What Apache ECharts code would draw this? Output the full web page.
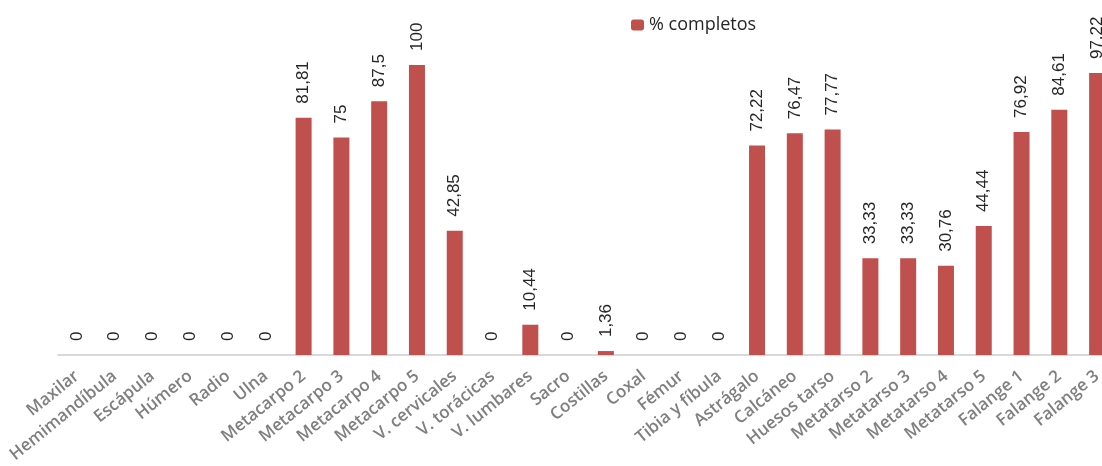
<!DOCTYPE html>
<html><head><meta charset="utf-8">
<script src="https://cdn.jsdelivr.net/npm/echarts@6/dist/echarts.min.js"></script>
<style>html,body{margin:0;padding:0;background:#fff}#c{width:1102px;height:466px}</style>
</head><body><div id="c"></div>
<script>
const categories = ["Maxilar","Hemimandíbula","Escápula","Húmero","Radio","Ulna","Metacarpo 2","Metacarpo 3","Metacarpo 4","Metacarpo 5","V. cervicales","V. torácicas","V. lumbares","Sacro","Costillas","Coxal","Fémur","Tibia y fíbula","Astrágalo","Calcáneo","Huesos tarso","Metatarso 2","Metatarso 3","Metatarso 4","Metatarso 5","Falange 1","Falange 2","Falange 3"];
const completos = [0,0,0,0,0,0,81.81,75,87.5,100,42.85,0,10.44,0,1.36,0,0,0,72.22,76.47,77.77,33.33,33.33,30.76,44.44,76.92,84.61,97.22];
const seriesName = "% completos";

const chart = echarts.init(document.getElementById('c'));
chart.setOption({
  animation:false,
  legend:{data:[seriesName], left:626, top:11, itemWidth:13, itemHeight:11, itemGap:6,
    textStyle:{fontFamily:'Open Sans', fontSize:18, color:'#262626'}},
  grid:{left:58, top:65, width:1058, height:290, containLabel:false, outerBoundsMode:'none'},
  xAxis:{type:'category', data:categories,
    axisLine:{lineStyle:{color:'#d9d9d9', width:2}},
    axisTick:{show:false},
    axisLabel:{interval:0, rotate:39, margin:19, fontFamily:'Open Sans', fontWeight:600, fontSize:17, color:'#7f7f7f'}},
  yAxis:{type:'value', min:0, max:100, show:false, splitLine:{show:false}},
  series:[{type:'bar', name:seriesName, data:completos, barWidth:16,
    itemStyle:{color:'#C0504D'},
    label:{show:true, position:'top', rotate:90, align:'left', verticalAlign:'middle', distance:14,
      fontFamily:'Liberation Sans', fontSize:17, color:'#262626',
      formatter:p=>String(p.value).replace('.',',')}}]
});
</script></body></html>
